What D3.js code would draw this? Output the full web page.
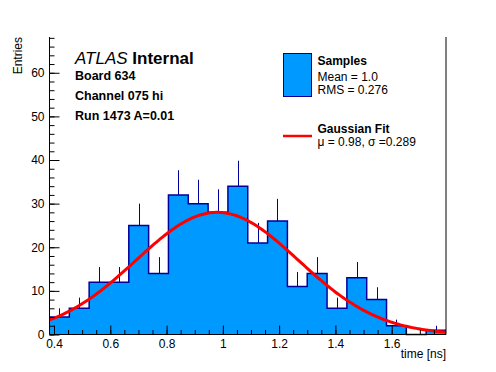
<!DOCTYPE html>
<html>
<head>
<meta charset="utf-8">
<script src="https://cdn.jsdelivr.net/npm/d3@7"></script>
<style>
  body { margin: 0; background: #fff; }
  svg { display: block; font-family: "Liberation Sans", Arial, Helvetica, sans-serif; }
</style>
</head>
<body>
<div id="chart"></div>
<script>
// Histogram data (20 bins)
const binLow = 0.384;
const binHigh = 1.793;
const counts = [4, 6, 12, 12, 25, 14, 32, 30, 28, 34, 21, 26, 11, 14, 6, 13, 8, 2, 0, 1];

// Gaussian fit parameters: amplitude, mean, sigma
const fitAmp = 28;
const fitMu = 0.98;
const fitSigma = 0.289;

const xTicks = [0.4, 0.6, 0.8, 1.0, 1.2, 1.4, 1.6];
const xTickLabels = ["0.4", "0.6", "0.8", "1", "1.2", "1.4", "1.6"];
const yTicks = [0, 10, 20, 30, 40, 50, 60];

const headerLines = ["Board 634", "Channel 075 hi", "Run 1473 A=0.01"];
const legendSamples = ["Mean = 1.0", "RMS = 0.276"];

// Dimensions
const width = 496;
const height = 372;
const mLeft = 49.5, mRight = 446, mTop = 37, mBottom = 334.5;

const fillColor = "#0099ff";
const lineColor = "#000099";

const svg = d3.select("#chart")
  .append("svg")
  .attr("width", width)
  .attr("height", height);

const x = d3.scaleLinear().domain([binLow, binHigh]).range([mLeft, mRight]);
const y = d3.scaleLinear().domain([0, 68.2]).range([mBottom, mTop]);

const nb = counts.length;
const bw = (binHigh - binLow) / nb;
const edges = d3.range(nb + 1).map(i => binLow + i * bw);
const stepData = edges.map((e, i) => ({ x: e, n: counts[Math.min(i, nb - 1)] }));

// Error bars (upper half shows above the fill)
svg.append("g")
  .attr("stroke", lineColor)
  .attr("stroke-width", 1)
  .selectAll("line")
  .data(counts.map((n, i) => ({ n, c: binLow + (i + 0.5) * bw })).filter(d => d.n > 0))
  .join("line")
  .attr("x1", d => Math.round(x(d.c)) + 0.5)
  .attr("x2", d => Math.round(x(d.c)) + 0.5)
  .attr("y1", d => y(d.n))
  .attr("y2", d => y(d.n + Math.sqrt(d.n)));

// Histogram fill
svg.append("path")
  .datum(stepData)
  .attr("fill", fillColor)
  .attr("d", d3.area().curve(d3.curveStepAfter).x(d => x(d.x)).y0(y(0)).y1(d => y(d.n)));

// Histogram outline
svg.append("path")
  .datum(stepData)
  .attr("fill", "none")
  .attr("stroke", lineColor)
  .attr("stroke-width", 1.5)
  .attr("d", d3.line().curve(d3.curveStepAfter).x(d => x(d.x)).y(d => y(d.n)));

// Gaussian fit curve
const fitPts = d3.range(0, 201).map(i => {
  const xv = binLow + (binHigh - binLow) * i / 200;
  return [xv, fitAmp * Math.exp(-0.5 * Math.pow((xv - fitMu) / fitSigma, 2))];
});
svg.append("path")
  .datum(fitPts)
  .attr("fill", "none")
  .attr("stroke", "#ff0000")
  .attr("stroke-width", 3)
  .attr("d", d3.line().x(d => x(d[0])).y(d => y(d[1])));

// Axes
const axisFont = "12px";

const yMinor = svg.append("g")
  .attr("transform", `translate(${mLeft},0)`)
  .call(d3.axisLeft(y).tickValues(d3.range(0, 69, 2)).tickSize(-5).tickSizeOuter(0).tickFormat(""));
yMinor.select(".domain").remove();

const yAxis = svg.append("g")
  .attr("transform", `translate(${mLeft},0)`)
  .call(d3.axisLeft(y).tickValues(yTicks).tickSize(-10).tickSizeOuter(0).tickPadding(5));
yAxis.select(".domain").attr("d", `M0,${y(0)}V${mTop}`);
yAxis.selectAll("text").style("font-size", axisFont).attr("fill", "#000");

const xMinor = svg.append("g")
  .attr("transform", `translate(0,${mBottom})`)
  .call(d3.axisBottom(x).tickValues(d3.range(0.4, 1.79, 0.05)).tickSize(-4.5).tickSizeOuter(0).tickFormat(""));
xMinor.select(".domain").remove();

const xAxis = svg.append("g")
  .attr("transform", `translate(0,${mBottom})`)
  .call(d3.axisBottom(x).tickValues(xTicks).tickSize(-9).tickSizeOuter(0).tickPadding(5)
    .tickFormat((d, i) => xTickLabels[i]));
xAxis.select(".domain").attr("d", `M${mLeft},0H${mRight}`);
xAxis.selectAll("text").style("font-size", axisFont).attr("fill", "#000");

svg.selectAll(".tick line").attr("stroke", "#000");

// right frame line
svg.append("line")
  .attr("x1", mRight).attr("x2", mRight)
  .attr("y1", mTop).attr("y2", mBottom)
  .attr("stroke", "#000");

// Axis titles
svg.append("text")
  .attr("transform", `translate(22,${mTop}) rotate(-90)`)
  .attr("text-anchor", "end")
  .style("font-size", axisFont)
  .text("Entries");

svg.append("text")
  .attr("x", mRight)
  .attr("y", 358)
  .attr("text-anchor", "end")
  .style("font-size", axisFont)
  .text("time [ns]");

// Header text
const hdr = svg.append("text").attr("x", 75).attr("y", 64).style("font-size", "17px");
hdr.append("tspan").style("font-style", "italic").text("ATLAS");
hdr.append("tspan").style("font-weight", "bold").text(" Internal");

svg.append("g")
  .selectAll("text")
  .data(headerLines)
  .join("text")
  .attr("x", 75)
  .attr("y", (d, i) => 80 + i * 20)
  .style("font-size", "12.5px")
  .style("font-weight", "bold")
  .text(d => d);

// Legend
const lg = svg.append("g");
lg.append("rect")
  .attr("x", 283.5).attr("y", 53.5)
  .attr("width", 28).attr("height", 43)
  .attr("fill", fillColor)
  .attr("stroke", lineColor);
lg.append("text").attr("x", 317.5).attr("y", 65)
  .style("font-size", "12px").style("font-weight", "bold").text("Samples");
lg.selectAll(".ls")
  .data(legendSamples)
  .join("text")
  .attr("class", "ls")
  .attr("x", 317.5)
  .attr("y", (d, i) => 81 + i * 13)
  .style("font-size", "12px")
  .text(d => d);

lg.append("line")
  .attr("x1", 283).attr("x2", 312)
  .attr("y1", 136).attr("y2", 136)
  .attr("stroke", "#ff0000")
  .attr("stroke-width", 2.5);
lg.append("text").attr("x", 317.5).attr("y", 132.5)
  .style("font-size", "12px").style("font-weight", "bold").text("Gaussian Fit");
lg.append("text").attr("x", 317.5).attr("y", 146)
  .style("font-size", "12px")
  .text(`\u03bc = ${fitMu}, \u03c3 =${fitSigma}`);
</script>
</body>
</html>
